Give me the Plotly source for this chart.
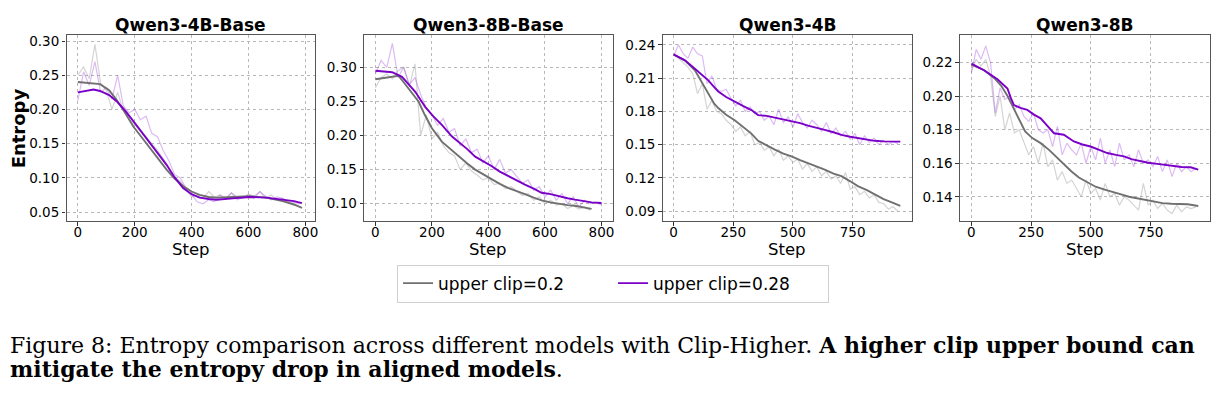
import plotly.graph_objects as go

W, H = 1216, 390          # page has an 8px body margin -> figure sits at (8, 8)
OFF = 8
STEP_RAW = 20

titles = ["Qwen3-4B-Base", "Qwen3-8B-Base", "Qwen3-4B", "Qwen3-8B"]
legend_names = ["upper clip=0.2", "upper clip=0.28"]

# ---- raw (noisy) series, one value every 20 steps ----
p1_raw_02 = [0.250, 0.262, 0.245, 0.295, 0.238, 0.228, 0.200, 0.225, 0.198, 0.185,
             0.178, 0.168, 0.160, 0.150, 0.140, 0.128, 0.115, 0.100, 0.095, 0.083,
             0.072, 0.075, 0.070, 0.080, 0.072, 0.075, 0.068, 0.078, 0.072, 0.070,
             0.076, 0.073, 0.080, 0.070, 0.075, 0.068, 0.070, 0.064, 0.060, 0.058]
p1_raw_028 = [0.213, 0.255, 0.235, 0.270, 0.225, 0.232, 0.215, 0.250, 0.205, 0.195,
              0.200, 0.185, 0.190, 0.165, 0.160, 0.140, 0.125, 0.105, 0.100, 0.085,
              0.075, 0.065, 0.062, 0.068, 0.065, 0.075, 0.070, 0.078, 0.068, 0.072,
              0.075, 0.070, 0.080, 0.073, 0.068, 0.072, 0.070, 0.066, 0.064, 0.062]
p2_raw_02 = [0.270, 0.285, 0.290, 0.283, 0.295, 0.300, 0.272, 0.305, 0.200, 0.230,
             0.195, 0.205, 0.185, 0.175, 0.170, 0.150, 0.160, 0.148, 0.142, 0.135,
             0.138, 0.128, 0.130, 0.122, 0.125, 0.118, 0.112, 0.115, 0.105, 0.110,
             0.100, 0.105, 0.098, 0.100, 0.093, 0.097, 0.092, 0.095, 0.090]
p2_raw_028 = [0.290, 0.310, 0.300, 0.335, 0.285, 0.300, 0.275, 0.285, 0.260, 0.240,
              0.230, 0.215, 0.225, 0.205, 0.210, 0.185, 0.195, 0.175, 0.180, 0.160,
              0.170, 0.150, 0.165, 0.145, 0.150, 0.140, 0.130, 0.135, 0.120, 0.125,
              0.110, 0.120, 0.105, 0.115, 0.100, 0.110, 0.095, 0.105, 0.100, 0.102,
              0.098]
p3_raw_02 = [0.232, 0.228, 0.224, 0.220, 0.214, 0.196, 0.205, 0.182, 0.190, 0.180,
             0.178, 0.172, 0.168, 0.162, 0.166, 0.158, 0.162, 0.150, 0.152, 0.145,
             0.148, 0.140, 0.146, 0.136, 0.140, 0.134, 0.137, 0.128, 0.133, 0.126,
             0.130, 0.122, 0.126, 0.119, 0.122, 0.115, 0.125, 0.110, 0.112, 0.105,
             0.108, 0.102, 0.105, 0.098, 0.097, 0.092, 0.094, 0.090]
p3_raw_028 = [0.230, 0.240, 0.232, 0.228, 0.238, 0.232, 0.230, 0.205, 0.212, 0.200,
              0.198, 0.200, 0.192, 0.185, 0.190, 0.180, 0.184, 0.178, 0.180, 0.172,
              0.176, 0.168, 0.182, 0.170, 0.175, 0.166, 0.178, 0.170, 0.165, 0.172,
              0.168, 0.162, 0.170, 0.160, 0.165, 0.158, 0.162, 0.155, 0.160, 0.150,
              0.158, 0.152, 0.156, 0.150, 0.154, 0.150, 0.153, 0.151]
p4_raw_02 = [0.215, 0.222, 0.218, 0.222, 0.212, 0.188, 0.200, 0.180, 0.190, 0.178,
             0.180, 0.172, 0.165, 0.170, 0.160, 0.172, 0.158, 0.162, 0.150, 0.155,
             0.148, 0.150, 0.145, 0.140, 0.150, 0.142, 0.145, 0.138, 0.148, 0.140,
             0.142, 0.135, 0.140, 0.138, 0.135, 0.132, 0.148, 0.135, 0.138, 0.133,
             0.136, 0.132, 0.130, 0.135, 0.131, 0.134, 0.133, 0.134]
p4_raw_028 = [0.214, 0.228, 0.222, 0.230, 0.220, 0.190, 0.205, 0.198, 0.200, 0.192,
              0.195, 0.188, 0.185, 0.190, 0.180, 0.178, 0.180, 0.170, 0.182, 0.165,
              0.172, 0.168, 0.165, 0.172, 0.160, 0.170, 0.162, 0.175, 0.160, 0.168,
              0.158, 0.172, 0.162, 0.165, 0.158, 0.168, 0.160, 0.162, 0.158, 0.164,
              0.155, 0.162, 0.152, 0.160, 0.155, 0.158, 0.155, 0.157]

# ---- smoothed series ----
p1_s_steps_02 = [0, 40, 78, 110, 136, 165, 195, 225, 253, 283, 312, 340, 370, 400, 428, 460, 487, 545, 604, 662, 720, 760, 788]
p1_s_02 = [0.240, 0.239, 0.237, 0.228, 0.214, 0.196, 0.175, 0.159, 0.144, 0.128, 0.112, 0.099, 0.088, 0.080, 0.075, 0.072, 0.071, 0.072, 0.073, 0.071, 0.066, 0.061, 0.056]
p1_s_steps_028 = [0, 25, 55, 78, 110, 136, 165, 195, 225, 253, 283, 312, 340, 370, 400, 428, 460, 487, 545, 604, 662, 720, 760, 788]
p1_s_028 = [0.225, 0.227, 0.229, 0.227, 0.221, 0.212, 0.199, 0.183, 0.167, 0.151, 0.135, 0.119, 0.101, 0.085, 0.076, 0.071, 0.069, 0.068, 0.070, 0.072, 0.071, 0.068, 0.066, 0.063]

p2_s_steps_02 = [0, 30, 59, 82, 100, 118, 135, 153, 175, 200, 235, 265, 294, 325, 353, 385, 412, 440, 471, 500, 529, 560, 588, 620, 647, 680, 706, 735, 765]
p2_s_02 = [0.2825, 0.284, 0.286, 0.2875, 0.278, 0.268, 0.259, 0.2495, 0.230, 0.2107, 0.191, 0.180, 0.169, 0.159, 0.150, 0.142, 0.1355, 0.129, 0.123, 0.118, 0.114, 0.109, 0.105, 0.102, 0.100, 0.098, 0.097, 0.095, 0.0925]
p2_s_steps_028 = [0, 35, 59, 94, 120, 141, 160, 176, 205, 235, 271, 294, 325, 353, 385, 412, 440, 471, 500, 529, 560, 588, 620, 647, 680, 706, 735, 765, 800]
p2_s_028 = [0.295, 0.293, 0.2927, 0.286, 0.274, 0.264, 0.252, 0.242, 0.228, 0.2155, 0.1985, 0.191, 0.180, 0.169, 0.162, 0.155, 0.147, 0.140, 0.134, 0.128, 0.122, 0.116, 0.114, 0.111, 0.108, 0.106, 0.104, 0.102, 0.101]

p3_s_steps = [0, 47, 89, 115, 145, 170, 187, 220, 256, 290, 326, 354, 390, 424, 460, 494, 530, 563, 600, 633, 670, 703, 740, 772, 810, 842, 880, 912, 950]
p3_s_02 = [0.2311, 0.226, 0.217, 0.207, 0.196, 0.187, 0.183, 0.177, 0.172, 0.166, 0.160, 0.1535, 0.149, 0.1455, 0.142, 0.1395, 0.136, 0.1335, 0.130, 0.1276, 0.124, 0.1216, 0.117, 0.1127, 0.109, 0.1052, 0.101, 0.0983, 0.0948]
p3_s_028 = [0.2314, 0.226, 0.2185, 0.214, 0.208, 0.202, 0.198, 0.193, 0.1887, 0.185, 0.1812, 0.1767, 0.1760, 0.1744, 0.1728, 0.1714, 0.1695, 0.1672, 0.1655, 0.1634, 0.1612, 0.1589, 0.1572, 0.1559, 0.1545, 0.1535, 0.1530, 0.1530, 0.1528]

p4_s_steps_02 = [0, 53, 95, 125, 150, 175, 200, 225, 255, 290, 325, 357, 390, 418, 450, 488, 520, 558, 590, 627, 660, 697, 730, 767, 800, 837, 870, 906, 950]
p4_s_02 = [0.2188, 0.2155, 0.2109, 0.2062, 0.2005, 0.1930, 0.1855, 0.1790, 0.1750, 0.172, 0.168, 0.1635, 0.159, 0.1552, 0.1515, 0.1483, 0.146, 0.1443, 0.1428, 0.1414, 0.1400, 0.139, 0.1380, 0.137, 0.1362, 0.1358, 0.1356, 0.1355, 0.1345]
p4_s_steps_028 = [0, 53, 109, 151, 165, 178, 205, 234, 262, 290, 320, 346, 387, 429, 465, 499, 535, 569, 605, 639, 670, 708, 740, 778, 810, 848, 880, 918, 950]
p4_s_028 = [0.2194, 0.2155, 0.2101, 0.2046, 0.199, 0.1947, 0.1930, 0.1918, 0.189, 0.1868, 0.182, 0.1779, 0.177, 0.173, 0.1712, 0.170, 0.168, 0.1661, 0.165, 0.1641, 0.1625, 0.1611, 0.1603, 0.1596, 0.159, 0.1582, 0.1578, 0.1576, 0.1562]

# ---- axis ticks ----
x_ticks = [[0, 200, 400, 600, 800], [0, 200, 400, 600, 800], [0, 250, 500, 750], [0, 250, 500, 750]]
y_ticks = [[0.05, 0.10, 0.15, 0.20, 0.25, 0.30],
           [0.10, 0.15, 0.20, 0.25, 0.30],
           [0.09, 0.12, 0.15, 0.18, 0.21, 0.24],
           [0.14, 0.16, 0.18, 0.20, 0.22]]

panels = [
    (p1_raw_02, p1_raw_028, p1_s_steps_02, p1_s_02, p1_s_steps_028, p1_s_028),
    (p2_raw_02, p2_raw_028, p2_s_steps_02, p2_s_02, p2_s_steps_028, p2_s_028),
    (p3_raw_02, p3_raw_028, p3_s_steps, p3_s_02, p3_s_steps, p3_s_028),
    (p4_raw_02, p4_raw_028, p4_s_steps_02, p4_s_02, p4_s_steps_028, p4_s_028),
]


def fx(px):
    return (px - OFF) / W


def fy(py):
    return 1 - (py - OFF) / H


# ---- layout geometry (page pixels) ----
px_left = [66.7, 365.0, 664.3, 962.3]
px_right = [316.0, 614.3, 914.0, 1212.7]
px_top, px_bottom = 33.0, 220.0
x_ranges = [[-39.75, 834.75], [-40, 840], [-46, 998], [-48, 998]]
y_ranges = [[0.037, 0.309], [0.0748, 0.3475], [0.0813, 0.249], [0.1256, 0.2366]]

GRAY = "#707070"
PURPLE = "#7a00c8"
GRAY_RAW = "rgba(160,160,160,0.45)"
PURPLE_RAW = "rgba(150,50,215,0.33)"

fig = go.Figure()
for i, (r02, r028, s02x, s02, s028x, s028) in enumerate(panels):
    xa = "x" if i == 0 else f"x{i+1}"
    ya = "y" if i == 0 else f"y{i+1}"
    fig.add_trace(go.Scatter(x=[STEP_RAW * k for k in range(len(r02))], y=r02, mode="lines",
                             line=dict(color=GRAY_RAW, width=1.2), xaxis=xa, yaxis=ya,
                             showlegend=False, hoverinfo="skip"))
    fig.add_trace(go.Scatter(x=[STEP_RAW * k for k in range(len(r028))], y=r028, mode="lines",
                             line=dict(color=PURPLE_RAW, width=1.2), xaxis=xa, yaxis=ya,
                             showlegend=False, hoverinfo="skip"))
    fig.add_trace(go.Scatter(x=s02x, y=s02, mode="lines", line=dict(color=GRAY, width=1.9),
                             xaxis=xa, yaxis=ya, name=legend_names[0], showlegend=(i == 0)))
    fig.add_trace(go.Scatter(x=s028x, y=s028, mode="lines", line=dict(color=PURPLE, width=1.9),
                             xaxis=xa, yaxis=ya, name=legend_names[1], showlegend=(i == 0)))

layout = dict(
    width=W, height=H, margin=dict(l=0, r=0, t=0, b=0),
    paper_bgcolor="white", plot_bgcolor="white",
    font=dict(family="DejaVu Sans", size=13, color="black"),
    showlegend=True,
    legend=dict(orientation="h", x=fx(398), y=fy(283), xanchor="left", yanchor="middle",
                bordercolor="#d0d0d0", borderwidth=1, bgcolor="white",
                font=dict(family="DejaVu Sans", size=17), entrywidth=170,
                tracegroupgap=0),
)
axis_common = dict(showline=True, linecolor="#555555", linewidth=1.2, mirror=True,
                   showgrid=True, gridcolor="#b8b8b8", griddash="dot", gridwidth=0.8,
                   ticks="outside", ticklen=3.5, tickcolor="#333333", zeroline=False,
                   tickfont=dict(family="DejaVu Sans", size=13.5, color="black"))
for i in range(4):
    xk = "xaxis" if i == 0 else f"xaxis{i+1}"
    yk = "yaxis" if i == 0 else f"yaxis{i+1}"
    ya = "y" if i == 0 else f"y{i+1}"
    xa = "x" if i == 0 else f"x{i+1}"
    layout[xk] = dict(axis_common, domain=[fx(px_left[i]), fx(px_right[i])], range=x_ranges[i],
                      tickvals=x_ticks[i], anchor=ya, ticklabelstandoff=-5)
    layout[yk] = dict(axis_common, domain=[fy(px_bottom), fy(px_top)], range=y_ranges[i],
                      tickvals=y_ticks[i], tickformat=".2f", anchor=xa)
fig.update_layout(**layout)

annotations = []
for i, t in enumerate(titles):
    cx = fx((px_left[i] + px_right[i]) / 2)
    annotations.append(dict(text=f"<b>{t}</b>", x=cx, y=fy(23), xref="paper", yref="paper",
                            xanchor="center", yanchor="middle", showarrow=False,
                            font=dict(family="DejaVu Sans", size=17, color="black")))
    annotations.append(dict(text="Step", x=cx, y=fy(249), xref="paper", yref="paper",
                            xanchor="center", yanchor="middle", showarrow=False,
                            font=dict(family="DejaVu Sans", size=16.5, color="black")))
annotations.append(dict(text="<b>Entropy</b>", x=fx(18), y=fy(127), xref="paper", yref="paper",
                        xanchor="center", yanchor="middle", textangle=-90, showarrow=False,
                        font=dict(family="DejaVu Sans", size=18, color="black")))
annotations.append(dict(text="Figure 8: Entropy comparison across different models with Clip-Higher. "
                             "<b>A higher clip upper bound can</b>",
                        x=0, y=fy(345), xref="paper", yref="paper", xanchor="left",
                        yanchor="middle", showarrow=False,
                        font=dict(family="DejaVu Serif", size=22, color="black")))
annotations.append(dict(text="<b>mitigate the entropy drop in aligned models</b>.",
                        x=0, y=fy(369), xref="paper", yref="paper", xanchor="left",
                        yanchor="middle", showarrow=False,
                        font=dict(family="DejaVu Serif", size=22, color="black")))
fig.update_layout(annotations=annotations)

fig.write_html("out.html")
